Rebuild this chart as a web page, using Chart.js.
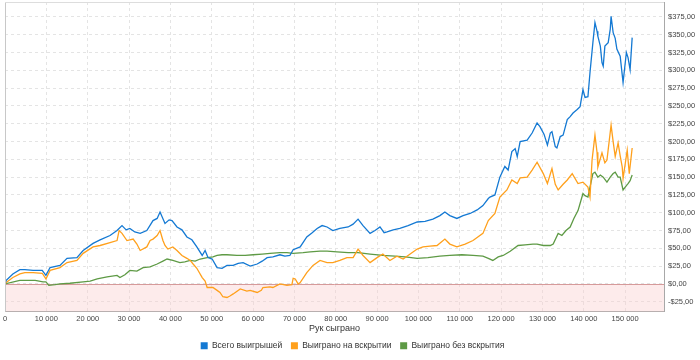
<!DOCTYPE html>
<html>
<head>
<meta charset="utf-8">
<script src="https://cdn.jsdelivr.net/npm/chart.js@4"></script>
<style>
  html, body { margin: 0; padding: 0; background: #ffffff; }
  #wrap { width: 700px; height: 360px; position: relative; }
</style>
</head>
<body>
<div id="wrap"><canvas id="c" width="700" height="360"></canvas></div>
<script>
// ---- Data ----
const seriesNames = ['Всего выигрышей', 'Выиграно на вскрытии', 'Выиграно без вскрытия'];
const xTitle = 'Рук сыграно';

const totalHands = [0,300,1900,3600,4800,6800,9000,9900,10900,13300,15000,17400,18900,21300,23000,25400,27100,28300,29300,30200,31400,32700,34300,35800,36800,37500,38700,39700,40400,41600,42800,44000,45200,46400,47700,48400,49100,50100,51300,52500,53700,55200,56400,57600,59300,61000,62200,63400,64800,66500,67700,68900,69700,71400,73000,74300,75500,76700,77900,79300,81000,83000,84200,85400,86600,88300,89500,90700,91700,92400,93900,95500,97500,99700,101600,103500,105200,106400,107600,109300,110800,112500,114200,115600,116900,117300,118500,119700,120900,121700,122600,123400,123900,124600,126300,127500,128700,129400,130400,131200,131900,132300,133100,133500,134300,135000,136000,136700,137400,138400,139100,139800,140300,141000,141500,142200,142700,143200,143400,144000,144400,144700,145100,145900,146400,146600,147100,147600,148000,148800,149500,150300,150700,151200,151700];
const totalValues = [0,5,14,20,20,19,19,12,23,26,36,37,47,57,62,68,75,82,76,78,73,71,75,89,92,101,85,90,89,80,76,66,62,52,40,47,37,35,23,22,26,26,29,30,25,28,32,37,38,41,39,40,48,52,66,72,78,82,80,75,78,80,84,91,82,71,75,80,72,73,76,78,82,87,88,91,96,101,96,92,96,99,104,110,120,122,125,150,165,160,186,190,179,200,202,212,226,221,210,195,212,214,193,191,207,209,231,235,240,245,249,273,262,263,297,339,367,355,348,334,311,306,334,339,358,376,353,345,330,320,283,325,318,301,346];

const showdownHands = [0,300,1900,3600,4800,6800,9000,9900,10900,13300,15000,17400,18900,21300,23000,25400,27100,27600,28300,29500,31000,31900,32700,34300,35100,35800,36800,37500,38200,38700,39400,40600,41600,42800,44000,44800,45500,46400,47700,48400,48900,50300,51300,52000,52700,53700,54400,55200,56900,58500,59300,61000,62000,62400,64100,64800,66500,68200,69400,69700,70200,70900,71400,73000,74500,76200,77900,79300,81000,82700,84200,85400,86600,88300,90000,91400,93100,94800,96300,98000,99700,101100,102800,104500,106400,107600,109300,111300,113200,115600,116900,118500,119700,121400,122600,123900,124600,126300,127500,128700,130200,131200,132300,133100,133800,135000,136000,137200,138600,139800,141000,141500,142000,142700,143200,143400,144400,145100,145600,146600,147100,147600,148300,148800,149300,149500,150500,151000,151700];
const showdownValues = [0,2,9,14,16,16,15,7,19,23,30,33,43,52,54,58,61,75,71,61,63,56,47,52,61,63,68,75,61,54,49,52,47,40,36,33,28,22,9,4,-5,-5,-9,-12,-18,-19,-17,-14,-7,-10,-9,-12,-9,-5,-4,-5,0,-2,-1,8,7,0,2,16,26,33,30,30,33,37,37,49,40,30,37,42,33,39,35,42,49,52,53,54,63,56,52,56,61,71,89,99,122,132,146,141,149,150,160,171,155,141,162,140,132,140,146,155,141,143,136,122,174,209,185,164,184,170,174,223,200,179,198,180,164,148,188,155,191];

const nonShowdownHands = [0,3600,7300,9200,9900,10600,12100,13300,15700,18900,20600,22300,24700,27100,27800,29000,30200,31900,33400,35100,36800,38200,39200,40600,42300,43500,44800,46000,47200,48900,50300,51300,52500,53700,56100,58100,60000,62200,64100,66500,68200,69700,72100,73800,76200,77900,80300,83000,85400,88300,91400,94300,96800,99700,102300,105200,107600,110500,113200,115600,116900,118000,119300,120500,122200,124100,125800,127700,128700,130200,131900,132600,133800,134700,135700,136700,137600,138600,139100,139800,140300,141000,141500,142200,142700,143400,144000,144700,145600,146400,147100,147600,148300,148800,149500,150300,150700,151200,151700];
const nonShowdownValues = [0,5,5,3,3,-2,-1,0,1,3,4,7,10,12,9,13,19,18,23,24,28,32,35,33,30,31,33,32,35,37,38,40,41,41,40,40,41,42,43,44,44,43,44,45,46,46,45,44,44,42,40,39,38,36,37,39,40,41,40,39,36,33,38,40,46,54,55,56,56,54,54,56,71,68,75,80,92,103,113,127,124,122,136,155,157,150,153,150,143,150,155,157,150,150,132,138,141,145,153];

const xTickValues = [0,10000,20000,30000,40000,50000,60000,70000,80000,90000,100000,110000,120000,130000,140000,150000];
const yTickValues = [-25,0,25,50,75,100,125,150,175,200,225,250,275,300,325,350,375];

// ---- Colours ----
const colors = ['#1479d3', '#ffa01c', '#5e9a45'];

function toPoints(xs, ys) { return xs.map((x, i) => ({ x: x, y: ys[i] })); }

const negativeZone = {
  id: 'negativeZone',
  beforeDatasetsDraw(chart) {
    const { ctx, chartArea, scales } = chart;
    const y0 = scales.y.getPixelForValue(0);
    ctx.save();
    ctx.fillStyle = 'rgba(250, 205, 205, 0.40)';
    ctx.fillRect(chartArea.left, y0, chartArea.right - chartArea.left, chartArea.bottom - y0);
    ctx.strokeStyle = '#d69a9a';
    ctx.lineWidth = 1;
    ctx.beginPath();
    ctx.moveTo(chartArea.left, Math.round(y0) + 0.5);
    ctx.lineTo(chartArea.right, Math.round(y0) + 0.5);
    ctx.stroke();
    ctx.restore();
  },
  afterDatasetsDraw(chart) {
    const { ctx, chartArea } = chart;
    ctx.save();
    ctx.lineWidth = 1;
    ctx.strokeStyle = '#c8c8c8';
    ctx.beginPath();
    ctx.moveTo(Math.round(chartArea.left) + 0.5, chartArea.bottom);
    ctx.lineTo(Math.round(chartArea.left) + 0.5, chartArea.top);
    ctx.stroke();
    ctx.strokeStyle = '#dddddd';
    ctx.beginPath();
    ctx.moveTo(chartArea.left, Math.round(chartArea.top) + 0.5);
    ctx.lineTo(chartArea.right, Math.round(chartArea.top) + 0.5);
    ctx.stroke();
    ctx.restore();
  }
};

const fontFamily = '"Liberation Sans", Arial, sans-serif';

new Chart(document.getElementById('c'), {
  type: 'line',
  data: {
    datasets: [
      { label: seriesNames[0], data: toPoints(totalHands, totalValues), borderColor: colors[0], backgroundColor: colors[0] },
      { label: seriesNames[1], data: toPoints(showdownHands, showdownValues), borderColor: colors[1], backgroundColor: colors[1] },
      { label: seriesNames[2], data: toPoints(nonShowdownHands, nonShowdownValues), borderColor: colors[2], backgroundColor: colors[2] }
    ]
  },
  options: {
    responsive: false,
    animation: false,
    devicePixelRatio: 1,
    layout: { padding: { left: 5, top: 2, right: 0, bottom: 0 } },
    elements: {
      point: { radius: 0 },
      line: { borderWidth: 1.3, tension: 0 }
    },
    plugins: {
      legend: {
        position: 'bottom',
        labels: {
          boxWidth: 7, boxHeight: 7, padding: 4,
          color: '#333333',
          font: { family: fontFamily, size: 8.5 },
          generateLabels: chart => chart.data.datasets.map((ds, i, arr) => ({
            text: ds.label + (i < arr.length - 1 ? '  ' : ''),
            fillStyle: ds.borderColor, strokeStyle: ds.borderColor,
            lineWidth: 0, hidden: false, datasetIndex: i, fontColor: '#333333'
          }))
        }
      },
      tooltip: { enabled: false }
    },
    scales: {
      x: {
        type: 'linear',
        min: 0, max: 159400,
        grid: { color: '#e4e4e4', drawTicks: false },
        border: { display: true, color: '#a8a8a8', dash: [3, 3] },
        afterBuildTicks: s => { s.ticks = xTickValues.map(v => ({ value: v })); },
        afterFit: s => { s.height = 26; s.paddingLeft = 0; s.paddingRight = 0; },
        ticks: {
          maxRotation: 0, autoSkip: false,
          padding: 3, color: '#444444',
          font: { family: fontFamily, size: 7.5 },
          callback: v => String(v).replace(/\B(?=(\d{3})+(?!\d))/g, ' ')
        },
        title: { display: true, text: xTitle, color: '#333333', padding: { top: 0, bottom: 4 }, font: { family: fontFamily, size: 9 } }
      },
      y: {
        position: 'right',
        min: -38.7, max: 396,
        grid: { color: '#e4e4e4', drawTicks: false },
        border: { display: true, color: '#a8a8a8', dash: [3, 3] },
        afterBuildTicks: s => { s.ticks = yTickValues.map(v => ({ value: v })); },
        afterFit: s => { s.width = 36; s.paddingTop = 0; s.paddingBottom = 0; },
        ticks: {
          autoSkip: false,
          padding: 4, color: '#444444',
          font: { family: fontFamily, size: 7.5 },
          callback: v => (v < 0 ? '-$' + Math.abs(v) : '$' + v) + ',00'
        }
      }
    }
  },
  plugins: [negativeZone]
});
</script>
</body>
</html>
